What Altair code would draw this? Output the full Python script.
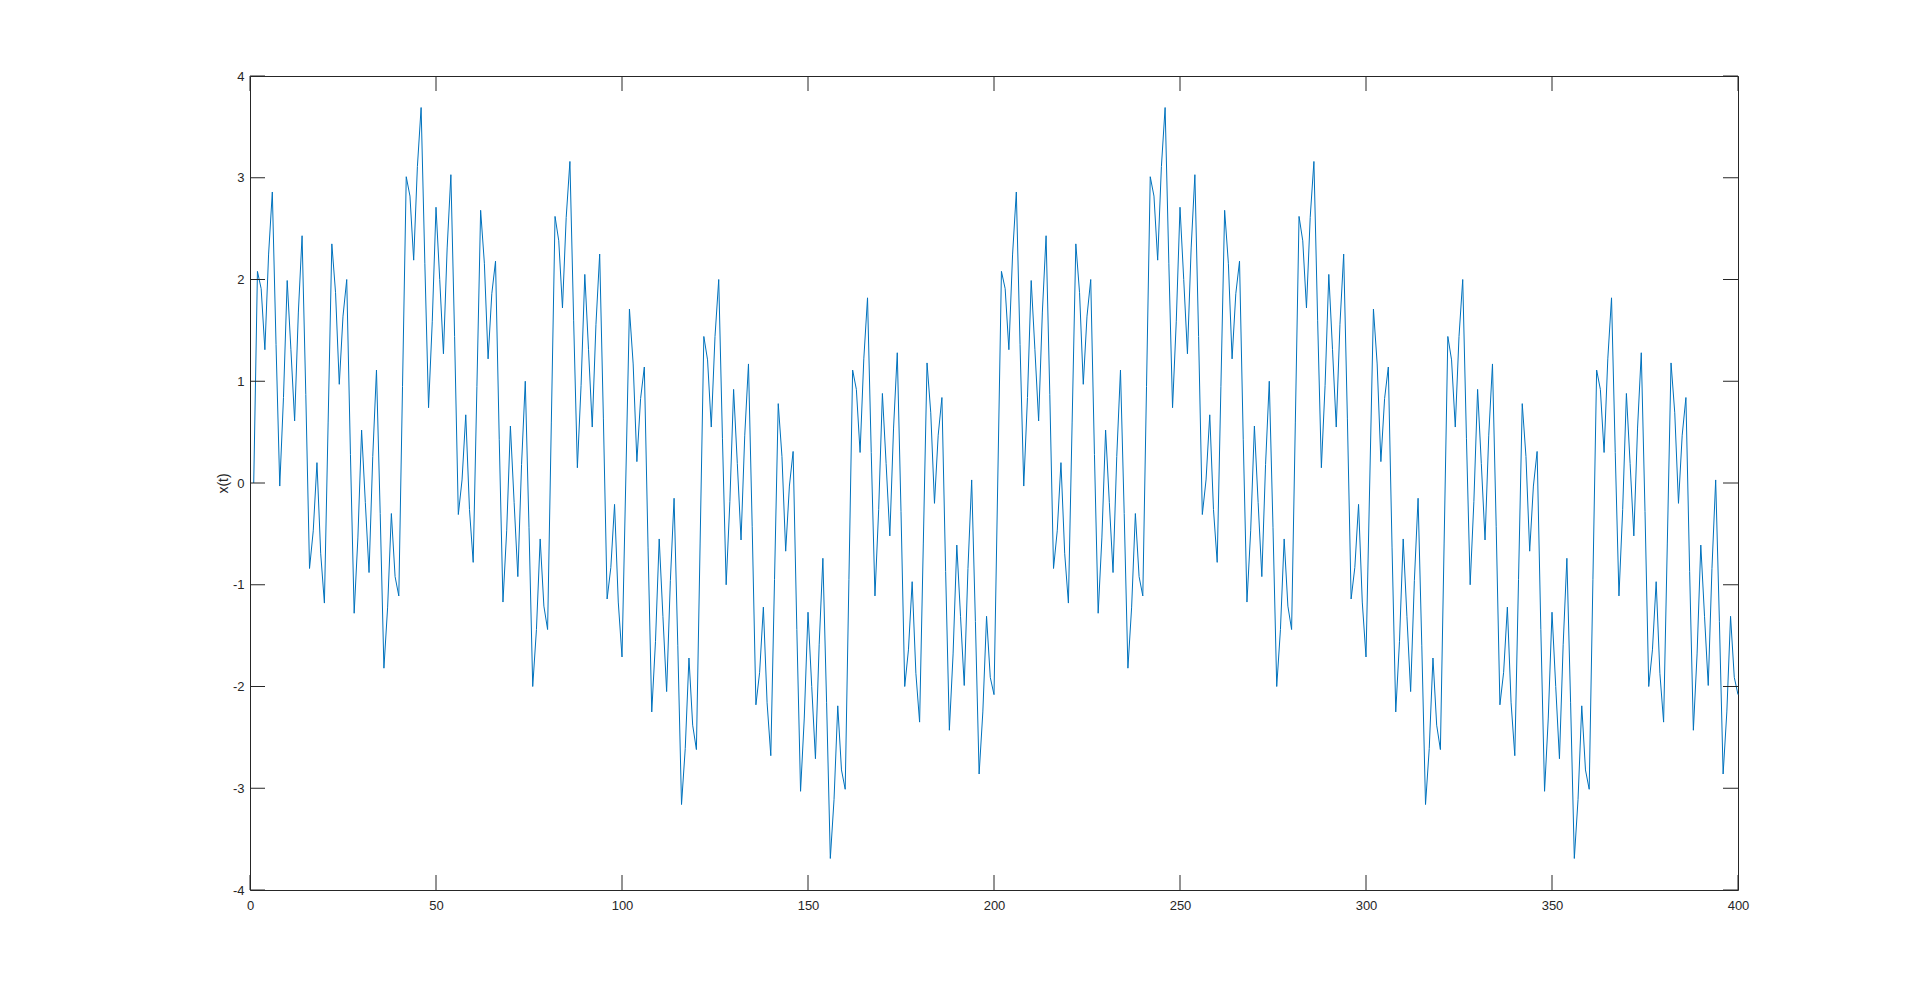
import altair as alt
import pandas as pd

# Signal values, samples 1..400 (first period 1..200, second 201..400)
first_half = [
    0.00, 2.08, 1.91, 1.31, 2.25, 2.86, 1.36, -0.03, 0.84, 1.99, 1.31, 0.61, 1.68, 2.43, 0.87, -0.84, -0.47, 0.20, -0.69, -1.18,
    0.59, 2.35, 1.87, 0.97, 1.64, 2.00, 0.28, -1.28, -0.54, 0.52, -0.19, -0.88, 0.26, 1.11, -0.30, -1.82, -1.22, -0.30, -0.92, -1.11,
    0.95, 3.01, 2.82, 2.19, 3.11, 3.69, 2.16, 0.74, 1.59, 2.71, 2.00, 1.27, 2.31, 3.03, 1.44, -0.31, 0.03, 0.67, -0.26, -0.78,
    0.95, 2.68, 2.16, 1.22, 1.86, 2.18, 0.43, -1.17, -0.47, 0.56, -0.19, -0.92, 0.18, 1.00, -0.44, -2.00, -1.44, -0.55, -1.21, -1.44,
    0.59, 2.62, 2.38, 1.72, 2.61, 3.16, 1.60, 0.15, 0.96, 2.05, 1.31, 0.55, 1.56, 2.25, 0.63, -1.14, -0.83, -0.21, -1.17, -1.71,
    0.00, 1.71, 1.17, 0.21, 0.83, 1.14, -0.63, -2.25, -1.56, -0.55, -1.31, -2.05, -0.96, -0.15, -1.60, -3.16, -2.61, -1.72, -2.38, -2.62,
    -0.59, 1.44, 1.21, 0.55, 1.44, 2.00, 0.44, -1.00, -0.18, 0.92, 0.19, -0.56, 0.47, 1.17, -0.43, -2.18, -1.86, -1.22, -2.16, -2.68,
    -0.95, 0.78, 0.26, -0.67, -0.03, 0.31, -1.44, -3.03, -2.31, -1.27, -2.00, -2.71, -1.59, -0.74, -2.16, -3.69, -3.11, -2.19, -2.82, -3.01,
    -0.95, 1.11, 0.92, 0.30, 1.22, 1.82, 0.30, -1.11, -0.26, 0.88, 0.19, -0.52, 0.54, 1.28, -0.28, -2.00, -1.64, -0.97, -1.87, -2.35,
    -0.59, 1.18, 0.69, -0.20, 0.47, 0.84, -0.87, -2.43, -1.68, -0.61, -1.31, -1.99, -0.84, 0.03, -1.36, -2.86, -2.25, -1.31, -1.91, -2.08,
]
second_half = [
    0.00, 2.08, 1.91, 1.31, 2.25, 2.86, 1.36, -0.03, 0.84, 1.99, 1.31, 0.61, 1.68, 2.43, 0.87, -0.84, -0.47, 0.20, -0.69, -1.18,
    0.59, 2.35, 1.87, 0.97, 1.64, 2.00, 0.28, -1.28, -0.54, 0.52, -0.19, -0.88, 0.26, 1.11, -0.30, -1.82, -1.22, -0.30, -0.92, -1.11,
    0.95, 3.01, 2.82, 2.19, 3.11, 3.69, 2.16, 0.74, 1.59, 2.71, 2.00, 1.27, 2.31, 3.03, 1.44, -0.31, 0.03, 0.67, -0.26, -0.78,
    0.95, 2.68, 2.16, 1.22, 1.86, 2.18, 0.43, -1.17, -0.47, 0.56, -0.19, -0.92, 0.18, 1.00, -0.44, -2.00, -1.44, -0.55, -1.21, -1.44,
    0.59, 2.62, 2.38, 1.72, 2.61, 3.16, 1.60, 0.15, 0.96, 2.05, 1.31, 0.55, 1.56, 2.25, 0.63, -1.14, -0.83, -0.21, -1.17, -1.71,
    0.00, 1.71, 1.17, 0.21, 0.83, 1.14, -0.63, -2.25, -1.56, -0.55, -1.31, -2.05, -0.96, -0.15, -1.60, -3.16, -2.61, -1.72, -2.38, -2.62,
    -0.59, 1.44, 1.21, 0.55, 1.44, 2.00, 0.44, -1.00, -0.18, 0.92, 0.19, -0.56, 0.47, 1.17, -0.43, -2.18, -1.86, -1.22, -2.16, -2.68,
    -0.95, 0.78, 0.26, -0.67, -0.03, 0.31, -1.44, -3.03, -2.31, -1.27, -2.00, -2.71, -1.59, -0.74, -2.16, -3.69, -3.11, -2.19, -2.82, -3.01,
    -0.95, 1.11, 0.92, 0.30, 1.22, 1.82, 0.30, -1.11, -0.26, 0.88, 0.19, -0.52, 0.54, 1.28, -0.28, -2.00, -1.64, -0.97, -1.87, -2.35,
    -0.59, 1.18, 0.69, -0.20, 0.47, 0.84, -0.87, -2.43, -1.68, -0.61, -1.31, -1.99, -0.84, 0.03, -1.36, -2.86, -2.25, -1.31, -1.91, -2.08,
]
signal = first_half + second_half
sample_index = list(range(1, len(signal) + 1))

x_ticks = [0, 50, 100, 150, 200, 250, 300, 350, 400]
y_ticks = [-4, -3, -2, -1, 0, 1, 2, 3, 4]

W, H = 1488, 814
TICK = 15
AX = "#262626"
FONT = "Liberation Sans"

df = pd.DataFrame({"n": sample_index, "x": signal})
dfx = pd.DataFrame({"n": x_ticks})
dfy = pd.DataFrame({"x": y_ticks})

xscale = alt.Scale(domain=[0, 400], nice=False, zero=False)
yscale = alt.Scale(domain=[-4, 4], nice=False, zero=False)
x_axis = alt.Axis(values=x_ticks, title=None, labelPadding=9, labelFlush=False,
                  labelExpr="datum.value + ''")
y_axis = alt.Axis(values=y_ticks, title="x(t)", labelPadding=6, labelFlush=False,
                  labelExpr="datum.value + ''", titlePadding=2)
x_enc = alt.X("n:Q", scale=xscale, axis=x_axis)
y_enc = alt.Y("x:Q", scale=yscale, axis=y_axis)

line = alt.Chart(df).mark_line(color="#0072BD", strokeWidth=1).encode(x=x_enc, y=y_enc)

bottom_ticks = alt.Chart(dfx).mark_rule(color=AX, strokeWidth=1).encode(
    x=x_enc, y=alt.value(H), y2=alt.value(H - TICK))
top_ticks = alt.Chart(dfx).mark_rule(color=AX, strokeWidth=1).encode(
    x=x_enc, y=alt.value(0), y2=alt.value(TICK))
left_ticks = alt.Chart(dfy).mark_rule(color=AX, strokeWidth=1).encode(
    y=y_enc, x=alt.value(0), x2=alt.value(TICK))
right_ticks = alt.Chart(dfy).mark_rule(color=AX, strokeWidth=1).encode(
    y=y_enc, x=alt.value(W - TICK), x2=alt.value(W))

chart = alt.layer(line, bottom_ticks, top_ticks, left_ticks, right_ticks).properties(
    width=W, height=H,
    autosize=alt.AutoSizeParams(type="none"),
    padding={"left": 242, "top": 68, "right": 170, "bottom": 100},
    background="white",
).configure_view(
    stroke=AX, strokeWidth=1
).configure_axis(
    domain=False, ticks=False, grid=False,
    labelFont=FONT, labelFontSize=13, labelColor=AX,
    titleFont=FONT, titleFontSize=14, titleFontWeight="normal", titleColor=AX,
)

chart.save("out.html", embed_options={"renderer": "svg", "actions": False})
